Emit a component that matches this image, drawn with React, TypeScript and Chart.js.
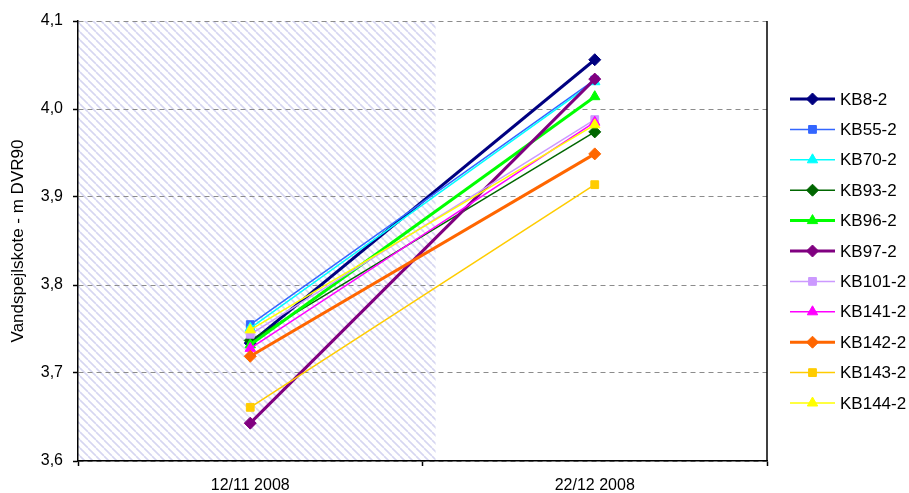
import React, { useEffect, useRef } from 'react';
import { Chart, registerables } from 'chart.js';
import { drawPoint } from 'chart.js/helpers';

Chart.register(...registerables);

const categories = ['12/11 2008', '22/12 2008'];
const seriesNames = ['KB8-2', 'KB55-2', 'KB70-2', 'KB93-2', 'KB96-2', 'KB97-2', 'KB101-2', 'KB141-2', 'KB142-2', 'KB143-2', 'KB144-2'];
const kb8 = [3.734, 4.056];
const kb55 = [3.755, 4.033];
const kb70 = [3.751, 4.031];
const kb93 = [3.737, 3.974];
const kb96 = [3.732, 4.014];
const kb97 = [3.643, 4.034];
const kb101 = [3.744, 3.988];
const kb141 = [3.728, 3.985];
const kb142 = [3.719, 3.949];
const kb143 = [3.661, 3.914];
const kb144 = [3.749, 3.982];
const seriesValues = [kb8, kb55, kb70, kb93, kb96, kb97, kb101, kb141, kb142, kb143, kb144];
const seriesColors = ['#000080', '#3366FF', '#00FFFF', '#006600', '#00FF00', '#800080', '#CC99FF', '#FF00FF', '#FF6600', '#FFCC00', '#FFFF00'];
const seriesMarkers = ['rectRot', 'rect', 'triangle', 'rectRot', 'triangle', 'rectRot', 'rect', 'triangle', 'rectRot', 'rect', 'triangle'];
const seriesThick = [true, false, false, false, true, true, false, false, true, false, false];
const yMin = 3.6;
const yMax = 4.1;
const yStep = 0.1;
const shadeEnd = 0.538; // category-scale position where hatched period ends

const FONT = 'Arial, "Liberation Sans", sans-serif';

function makePattern(ctx: CanvasRenderingContext2D) {
  const c = document.createElement('canvas');
  c.width = 8;
  c.height = 8;
  const p = c.getContext('2d')!;
  p.fillStyle = '#ffffff';
  p.fillRect(0, 0, 8, 8);
  p.strokeStyle = '#d6d6f1';
  p.lineWidth = 1.6;
  for (const o of [-8, 0, 8]) {
    p.beginPath();
    p.moveTo(o, 0);
    p.lineTo(o + 8, 8);
    p.stroke();
  }
  return ctx.createPattern(c, 'repeat');
}

const shadePlugin = {
  id: 'shade',
  beforeDraw(chart: any) {
    const { ctx, chartArea } = chart;
    const x = chart.scales.x;
    const xEnd = x.getPixelForValue(shadeEnd);
    const pat = makePattern(ctx);
    ctx.save();
    ctx.fillStyle = pat as any;
    ctx.fillRect(chartArea.left, chartArea.top, xEnd - chartArea.left, chartArea.bottom - chartArea.top);
    ctx.restore();
  },
  afterDraw(chart: any) {
    const { ctx, chartArea } = chart;
    ctx.save();
    ctx.strokeStyle = '#000';
    ctx.lineWidth = 1.5;
    ctx.beginPath();
    ctx.moveTo(chartArea.right, chartArea.top);
    ctx.lineTo(chartArea.right, chartArea.bottom);
    ctx.stroke();

    // legend
    const lx0 = 790;
    const lx1 = 835;
    const tx = 840;
    const y0 = 99;
    const dy = 30.4;
    ctx.font = '17px ' + FONT;
    ctx.textBaseline = 'middle';
    ctx.textAlign = 'left';
    chart.data.datasets.forEach((ds: any, i: number) => {
      const y = y0 + i * dy;
      ctx.strokeStyle = ds.borderColor;
      ctx.lineWidth = ds.borderWidth;
      ctx.beginPath();
      ctx.moveTo(lx0, y);
      ctx.lineTo(lx1, y);
      ctx.stroke();
      ctx.fillStyle = ds.pointBackgroundColor;
      ctx.strokeStyle = ds.pointBorderColor;
      ctx.lineWidth = 1;
      drawPoint(ctx, { pointStyle: ds.pointStyle, radius: ds.pointRadius, rotation: 0, borderWidth: 1 } as any, (lx0 + lx1) / 2, y);
      ctx.fillStyle = '#000';
      ctx.fillText(ds.label, tx, y + 1);
    });
    ctx.restore();
  },
};

export default function App() {
  const ref = useRef<HTMLCanvasElement>(null);
  useEffect(() => {
    const datasets = seriesNames.map((name, i) => ({
      label: name,
      data: seriesValues[i],
      borderColor: seriesColors[i],
      backgroundColor: seriesColors[i],
      pointBackgroundColor: seriesColors[i],
      pointBorderColor: seriesColors[i],
      borderWidth: seriesThick[i] ? 3 : 1.5,
      pointStyle: seriesMarkers[i],
      pointRadius: seriesMarkers[i] === 'rect' ? 5.5 : 6,
      pointBorderWidth: 1,
      order: seriesNames.length - i,
      tension: 0,
      fill: false,
    }));
    const chart = new Chart(ref.current!, {
      type: 'line',
      data: { labels: categories, datasets },
      plugins: [shadePlugin],
      options: {
        animation: false,
        responsive: false,
        layout: { padding: { top: 21, right: 142, left: 0, bottom: 0 } },
        plugins: { legend: { display: false }, tooltip: { enabled: false } },
        scales: {
          x: {
            type: 'category',
            offset: true,
            grid: { offset: true, drawOnChartArea: false, tickLength: 5, tickColor: '#000', tickWidth: 1.5 },
            border: { color: '#000', width: 1.5 },
            ticks: { color: '#000', font: { family: FONT, size: 16 }, padding: 10, maxRotation: 0 },
            afterFit: (s: any) => { s.height = 32; },
          },
          y: {
            min: yMin,
            max: yMax,
            grid: { color: '#8c8c8c', lineWidth: 1, tickLength: 5, tickColor: '#000', tickWidth: 1.5, tickBorderDash: [] },
            border: { color: '#000', width: 1.5, dash: [5, 4] },
            ticks: {
              stepSize: yStep,
              color: '#000',
              font: { family: FONT, size: 16 },
              padding: 10,
              callback: (v: any) => Number(v).toFixed(1).replace('.', ','),
            },
            title: {
              display: true,
              text: 'Vandspejlskote - m DVR90',
              color: '#000',
              font: { family: FONT, size: 17 },
              padding: { top: 8, bottom: 0 },
            },
            afterFit: (s: any) => { s.width = 78; },
          },
        },
      } as any,
    });
    return () => chart.destroy();
  }, []);
  return (
    <div style={{ position: 'absolute', left: 0, top: 0, width: 909, height: 493, background: '#fff' }}>
      <canvas ref={ref} width={909} height={493} />
    </div>
  );
}
